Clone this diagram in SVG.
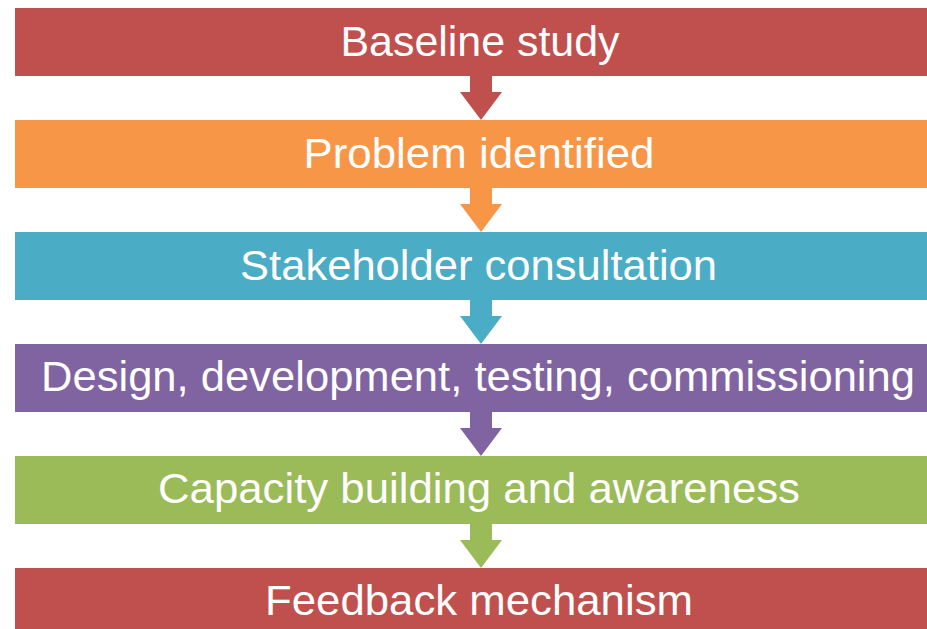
<svg xmlns="http://www.w3.org/2000/svg" width="927" height="629" viewBox="0 0 927 629">
<style>
.lbl{font-family:"Liberation Sans",Arial,sans-serif;font-size:43px;fill:#ffffff;text-anchor:middle}
.red{fill:#C0504D}.orange{fill:#F79646}.blue{fill:#4BACC6}.purple{fill:#8064A2}.green{fill:#9BBB59}
</style>
<defs>
<path id="arr" d="M470,0 H492 V16 H502 L481,44 L460,16 H470 Z"/>
</defs>
<rect width="927" height="629" fill="#ffffff"/>
<g id="connectors">
<use href="#arr" y="76" class="red"/>
<use href="#arr" y="188" class="orange"/>
<use href="#arr" y="300" class="blue"/>
<use href="#arr" y="412" class="purple"/>
<use href="#arr" y="524" class="green"/>
</g>
<g id="n1"><rect x="15" y="8" width="930" height="68" class="red"/><text class="lbl" x="480" y="56" textLength="279" lengthAdjust="spacingAndGlyphs">Baseline study</text></g>
<g id="n2"><rect x="15" y="120" width="930" height="68" class="orange"/><text class="lbl" x="479" y="168" textLength="351" lengthAdjust="spacingAndGlyphs">Problem identified</text></g>
<g id="n3"><rect x="15" y="232" width="930" height="68" class="blue"/><text class="lbl" x="478.5" y="280" textLength="477" lengthAdjust="spacingAndGlyphs">Stakeholder consultation</text></g>
<g id="n4"><rect x="15" y="344" width="930" height="68" class="purple"/><text class="lbl" x="478" y="391" textLength="874" lengthAdjust="spacingAndGlyphs">Design, development, testing, commissioning</text></g>
<g id="n5"><rect x="15" y="456" width="930" height="68" class="green"/><text class="lbl" x="479" y="503" textLength="642" lengthAdjust="spacingAndGlyphs">Capacity building and awareness</text></g>
<g id="n6"><rect x="15" y="568" width="930" height="68" class="red"/><text class="lbl" x="479" y="615" textLength="428" lengthAdjust="spacingAndGlyphs">Feedback mechanism</text></g>
</svg>
